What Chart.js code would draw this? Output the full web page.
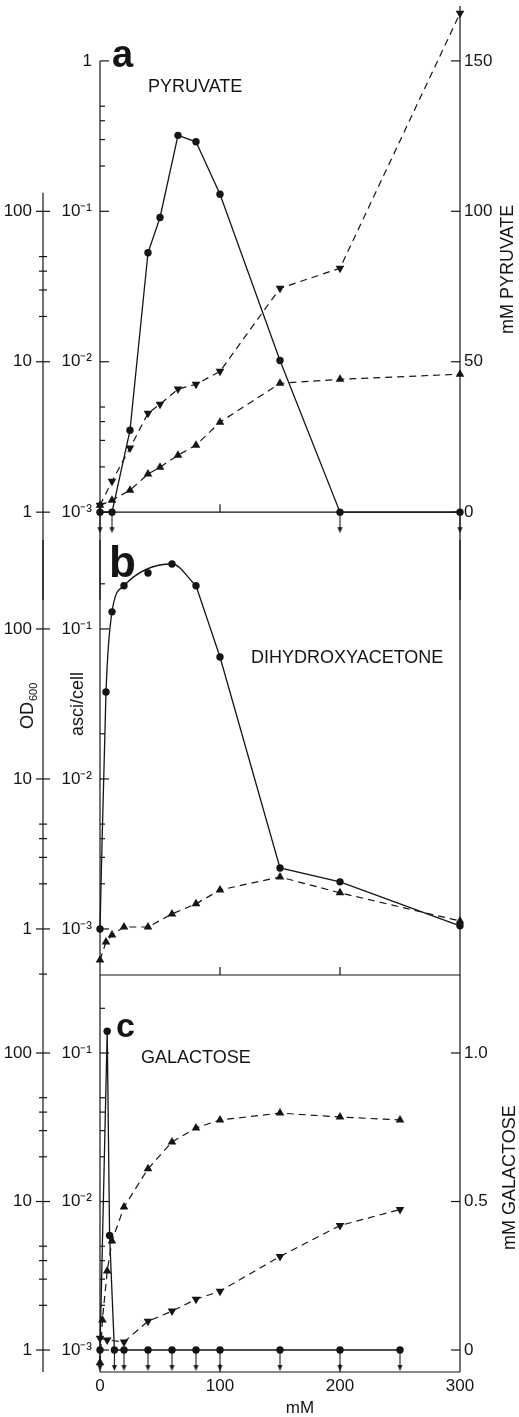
<!DOCTYPE html>
<html>
<head>
<meta charset="utf-8">
<script src="https://cdn.jsdelivr.net/npm/chart.js@4.4.0/dist/chart.umd.min.js"></script>
<style>
  body { margin: 0; background: #fff; }
  #wrap { position: relative; width: 519px; height: 1417px; }
  #wrap canvas { position: absolute; left: 0; top: 0; }
</style>
</head>
<body>
<div id="wrap">
  <canvas id="panelA" width="519" height="1417"></canvas>
  <canvas id="panelB" width="519" height="1417"></canvas>
  <canvas id="panelC" width="519" height="1417"></canvas>
</div>
<script>
// values
// a: pyruvate
const pyrConc = [0, 10, 25, 40, 50, 65, 80, 100, 150, 200, 300];
const pyrAsci = [0.001, 0.001, 0.0035, 0.053, 0.091, 0.32, 0.29, 0.13, 0.0102, 0.001, 0.001];
const pyrOD = [1.11, 1.20, 1.40, 1.79, 1.99, 2.39, 2.79, 3.96, 7.19, 7.64, 8.27];
const pyrLeft = [2.3, 10.3, 21.3, 32.9, 35.9, 40.9, 42.5, 46.8, 74.4, 81.1, 165.8];
const pyrBelow = [0, 10, 200, 300];

// b: dihydroxyacetone
const dhaConc = [0, 5, 10, 20, 40, 60, 80, 100, 150, 200, 300];
const dhaAsci = [0.001, 0.038, 0.13, 0.194, 0.236, 0.271, 0.194, 0.065, 0.00255, 0.00206, 0.00105];
const dhaOD = [0.62, 0.82, 0.91, 1.03, 1.03, 1.26, 1.47, 1.82, 2.22, 1.74, 1.13];
const dhaCurveConc = [0, 5, 10, 20, 60, 80];
const dhaCurve = [0.001, 0.038, 0.13, 0.194, 0.271, 0.194];

// c: galactose
const galAsciConc = [0, 6, 8, 12, 20, 40, 60, 80, 100, 150, 200, 250];
const galAsci = [0.001, 0.14, 0.0059, 0.001, 0.001, 0.001, 0.001, 0.001, 0.001, 0.001, 0.001, 0.001];
const galODConc = [0, 2, 6, 10, 20, 40, 60, 80, 100, 150, 200, 250];
const galOD = [0.82, 1.59, 3.40, 5.42, 9.18, 16.6, 25.2, 31.3, 35.4, 39.4, 37.1, 35.4];
const galLeftConc = [0, 6, 20, 40, 60, 80, 100, 150, 200, 250];
const galLeft = [0.04, 0.034, 0.027, 0.097, 0.131, 0.171, 0.198, 0.315, 0.419, 0.473];
const galBelow = [0, 12, 20, 40, 60, 80, 100, 150, 200, 250];

// tick labels
const xTicks = [0, 100, 200, 300];
const odTicks = [1, 10, 100];
const asciTicksA = [0.001, 0.01, 0.1, 1];
const asciTicks = [0.001, 0.01, 0.1];
const pyrTicks = [0, 50, 100, 150];
const galTicks = [0, 0.5, 1.0];

const ink = '#151515';
const FONT = '"Liberation Sans", Arial, Helvetica, sans-serif';
const expLabel = { '1': '1', '0.1': '10\u207B\u00B9', '0.01': '10\u207B\u00B2', '0.001': '10\u207B\u00B3' };

const pairs = (xs, ys) => xs.map((x, i) => ({ x: x, y: ys[i] }));

// little "below detection" arrow used as a point style
function arrowStyle() {
    const c = document.createElement('canvas');
    c.width = 9; c.height = 46;
    const g = c.getContext('2d');
    g.strokeStyle = ink; g.fillStyle = ink; g.lineWidth = 1.1;
    g.beginPath(); g.moveTo(4.5, 26); g.lineTo(4.5, 40); g.stroke();
    g.beginPath(); g.moveTo(2, 38); g.lineTo(7, 38); g.lineTo(4.5, 44); g.closePath(); g.fill();
    return c;
}
const arrow = arrowStyle();

function solid(data, axis, extra) {
    return Object.assign({
        data: data, yAxisID: axis, borderColor: ink, backgroundColor: ink,
        borderWidth: 1.3, pointRadius: 3.7, pointBorderWidth: 0, pointStyle: 'circle',
        tension: 0, clip: false
    }, extra || {});
}
function dashed(data, axis, down) {
    return {
        data: data, yAxisID: axis, borderColor: ink, backgroundColor: ink,
        borderWidth: 1.2, borderDash: [7, 5], pointStyle: 'triangle',
        pointRotation: down ? 180 : 0, pointRadius: 5, pointBorderWidth: 0,
        tension: 0, clip: false
    };
}
function arrows(xs) {
    return {
        data: xs.map(x => ({ x: x, y: 0.001 })), yAxisID: 'y', showLine: false,
        pointStyle: arrow, pointRadius: 5, clip: false
    };
}

// the scales must not push the plot area inward for their end labels
function noPad(s) {
    s.paddingTop = 0; s.paddingBottom = 0; s.paddingLeft = 0; s.paddingRight = 0;
}

function logAxis(lo, hi, ticks, fmt, width, pad, weight) {
    return {
        type: 'logarithmic', axis: 'y', position: 'left', weight: weight,
        min: lo, max: hi, bounds: 'data',
        grid: { display: false, drawTicks: false }, border: { display: false },
        ticks: { autoSkip: false, padding: pad, color: ink, font: { family: FONT, size: 17 }, callback: fmt },
        afterBuildTicks: s => { s.ticks = ticks.map(v => ({ value: v })); },
        afterFit: s => { s.width = width; noPad(s); }
    };
}
function rightAxis(lo, hi, ticks, fmt) {
    return {
        type: 'linear', axis: 'y', position: 'right', min: lo, max: hi, bounds: 'data',
        grid: { display: false, drawTicks: false }, border: { display: false },
        ticks: { display: ticks.length > 0, autoSkip: false, padding: 4, color: ink, font: { family: FONT, size: 17 }, callback: fmt },
        afterBuildTicks: s => { s.ticks = ticks.map(v => ({ value: v })); },
        afterFit: s => { s.width = 59; noPad(s); }
    };
}
function xAxis(show) {
    return {
        type: 'linear', min: 0, max: 300, display: show, bounds: 'data',
        grid: { display: false, drawTicks: false }, border: { display: false },
        ticks: { autoSkip: false, maxRotation: 0, padding: 4, color: ink, font: { family: FONT, size: 17 } },
        afterBuildTicks: s => { s.ticks = xTicks.map(v => ({ value: v })); },
        afterFit: s => { s.height = show ? 45 : 0; noPad(s); }
    };
}

// axis lines and tick marks, placed with the chart's own scales
function makeFrame(spec) {
    return {
        id: 'frame',
        beforeDatasetsDraw(chart) {
            const ctx = chart.ctx;
            const area = chart.chartArea;
            const seg = (x1, y1, x2, y2) => { ctx.beginPath(); ctx.moveTo(x1, y1); ctx.lineTo(x2, y2); ctx.stroke(); };
            ctx.save();
            ctx.strokeStyle = ink;
            ctx.lineWidth = 1.2;
            spec.axes.forEach(a => {
                const s = chart.scales[a.id];
                const x = s.position === 'left' ? s.right : s.left;
                const inward = s.position === 'left' ? 1 : -1;
                const yTop = a.from !== undefined ? s.getPixelForValue(a.from) : area.top;
                seg(x, yTop, x, area.bottom);
                const mark = (v, len) => {
                    const y = s.getPixelForValue(v);
                    if (a.cross) seg(x - len, y, x + len, y);
                    else seg(x, y, x + inward * len, y);
                };
                (a.major || []).forEach(v => mark(v, a.cross ? 7 : 9));
                (a.minor || []).forEach(v => mark(v, a.cross ? 4 : 5));
            });
            const xs = chart.scales.x;
            const y = spec.baseAt !== undefined ? chart.scales.y.getPixelForValue(spec.baseAt) : area.bottom;
            seg(xs.getPixelForValue(0), y, xs.getPixelForValue(300), y);
            spec.baseTicks.forEach(v => { const bx = xs.getPixelForValue(v); seg(bx, y, bx, y - 8); });
            ctx.restore();
        }
    };
}

// panel letters, names and axis titles
function makeNotes(items) {
    return {
        id: 'notes',
        afterDraw(chart) {
            const ctx = chart.ctx;
            items.forEach(n => {
                ctx.save();
                ctx.fillStyle = ink;
                ctx.font = n.font;
                ctx.textAlign = n.align || 'left';
                ctx.textBaseline = 'alphabetic';
                ctx.translate(n.x, n.y);
                if (n.up) ctx.rotate(-Math.PI / 2);
                ctx.fillText(n.text, 0, 0);
                if (n.sub) {
                    const w = ctx.measureText(n.text).width;
                    ctx.font = '11px ' + FONT;
                    ctx.fillText(n.sub, w + 1, 4);
                }
                ctx.restore();
            });
        }
    };
}

function makeChart(id, spec) {
    return new Chart(document.getElementById(id), {
        type: 'line',
        data: { datasets: spec.datasets },
        options: {
            responsive: false, animation: false, events: [],
            layout: { padding: spec.padding },
            plugins: { legend: { display: false }, tooltip: { enabled: false } },
            scales: spec.scales
        },
        plugins: [makeFrame(spec.frame), makeNotes(spec.notes)]
    });
}

const odFmt = v => String(v);
const expFmt = v => expLabel[String(v)] || '';

// ---- panel a ----
const aLo = Math.pow(10, -3.584), aHi = Math.pow(10, 0.365);
makeChart('panelA', {
    padding: { top: 5, bottom: 817, left: 0, right: 0 },
    datasets: [
        dashed(pairs(pyrConc, pyrLeft), 'mm', true),
        dashed(pairs(pyrConc, pyrOD), 'od', false),
        solid(pairs(pyrConc, pyrAsci), 'y'),
        arrows(pyrBelow)
    ],
    scales: {
        x: xAxis(false),
        od: logAxis(aLo * 1000, aHi * 1000, odTicks, odFmt, 43, 11, 1),
        y: logAxis(aLo, aHi, asciTicksA, expFmt, 57, 8, 0),
        mm: rightAxis(50 * (-3.584 + 3), 50 * (0.365 + 3), pyrTicks, v => String(v))
    },
    frame: {
        axes: [
            { id: 'od', from: 133, cross: true, major: odTicks, minor: [20, 30, 40, 50] },
            { id: 'y', from: 1, major: asciTicksA, minor: [0.2, 0.3, 0.4, 0.5, 0.002, 0.003, 0.004, 0.005] },
            { id: 'mm', major: pyrTicks }
        ],
        baseAt: 0.001, baseTicks: [100]
    },
    notes: [
        { text: 'a', x: 112, y: 67, font: 'bold 38px ' + FONT },
        { text: 'PYRUVATE', x: 148, y: 92, font: '18px ' + FONT },
        { text: 'mM PYRUVATE', x: 513, y: 334, up: true, font: '18px ' + FONT }
    ]
});

// ---- panel b ----
const bLo = Math.pow(10, -3.307), bHi = Math.pow(10, -0.407);
makeChart('panelB', {
    padding: { top: 540, bottom: 442, left: 0, right: 0 },
    datasets: [
        dashed(pairs(dhaConc, dhaOD), 'od', false),
        solid(pairs(dhaCurveConc, dhaCurve), 'y', { pointRadius: 0, cubicInterpolationMode: 'monotone' }),
        solid(pairs(dhaConc, dhaAsci), 'y', {
            segment: { borderColor: c => c.p0.parsed.x >= 80 ? ink : 'rgba(0,0,0,0)' }
        })
    ],
    scales: {
        x: xAxis(false),
        od: logAxis(bLo * 1000, bHi * 1000, odTicks, odFmt, 43, 11, 1),
        y: logAxis(bLo, bHi, asciTicks, expFmt, 57, 8, 0),
        mm: rightAxis(0, 1, [], v => '')
    },
    frame: {
        axes: [
            { id: 'od', cross: true, major: odTicks, minor: [2, 3, 4, 5, 0.5] },
            { id: 'y', major: asciTicks, minor: [0.2, 0.02, 0.002, 0.003, 0.004, 0.005] },
            { id: 'mm' }
        ],
        baseTicks: [100, 200]
    },
    notes: [
        { text: 'b', x: 109, y: 577, font: 'bold 44px ' + FONT },
        { text: 'DIHYDROXYACETONE', x: 251, y: 663, font: '18px ' + FONT },
        { text: 'OD', sub: '600', x: 33, y: 729, up: true, font: '18px ' + FONT },
        { text: 'asci/cell', x: 83, y: 736, up: true, font: '18px ' + FONT }
    ]
});

// ---- panel c ----
const cLo = Math.pow(10, -3.148), cHi = Math.pow(10, -0.4747);
makeChart('panelC', {
    padding: { top: 975, bottom: 0, left: 0, right: 0 },
    datasets: [
        dashed(pairs(galLeftConc, galLeft), 'mm', true),
        dashed(pairs(galODConc, galOD), 'od', false),
        solid(pairs(galAsciConc, galAsci), 'y'),
        arrows(galBelow)
    ],
    scales: {
        x: xAxis(true),
        od: logAxis(cLo * 1000, cHi * 1000, odTicks, odFmt, 43, 11, 1),
        y: logAxis(cLo, cHi, asciTicks, expFmt, 57, 8, 0),
        mm: rightAxis(0.5 * (-3.148 + 3), 0.5 * (-0.4747 + 3), galTicks, v => v === 0 ? '0' : v.toFixed(1))
    },
    frame: {
        axes: [
            { id: 'od', cross: true, major: odTicks, minor: [20, 30, 40, 50, 2, 3, 4, 5] },
            { id: 'y', major: asciTicks, minor: [0.2, 0.02, 0.03, 0.04, 0.05, 0.002, 0.003, 0.004, 0.005] },
            { id: 'mm', major: galTicks }
        ],
        baseTicks: [100, 200]
    },
    notes: [
        { text: 'c', x: 116, y: 1037, font: 'bold 34px ' + FONT },
        { text: 'GALACTOSE', x: 141, y: 1063, font: '18px ' + FONT },
        { text: 'mM GALACTOSE', x: 515, y: 1250, up: true, font: '18px ' + FONT },
        { text: 'mM', x: 300, y: 1413, align: 'center', font: '17px ' + FONT }
    ]
});
</script>
</body>
</html>
